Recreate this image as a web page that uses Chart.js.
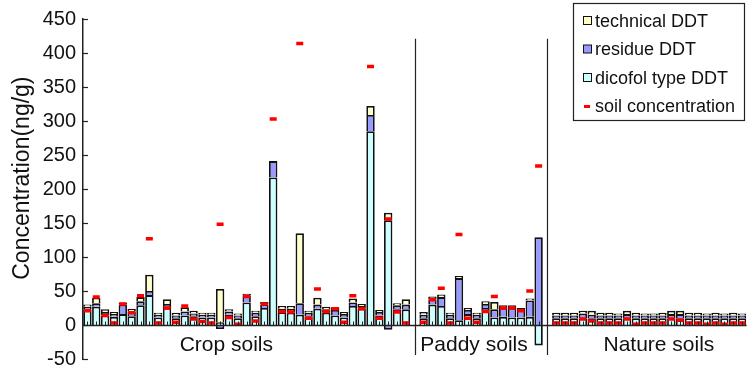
<!DOCTYPE html>
<html>
<head>
<meta charset="utf-8">
<script src="https://cdn.jsdelivr.net/npm/chart.js@4.4.0/dist/chart.umd.min.js"></script>
<style>
  html, body { margin: 0; padding: 0; background: #fff; }
  #wrap { width: 754px; height: 378px; }
</style>
</head>
<body>
<div id="wrap"><canvas id="chart" width="754" height="378"></canvas></div>
<script>
// 75 slots: 37 crop soils, gap, 14 paddy soils, gap, 22 nature soils
const dicofol = [
  23,27,14,12,16,13,29,44,11,25, 10,14,13,11,11,4,15,10,33,13, 25,217,19,18,15,13,24,18,14,11, 28,24,285,14,154,23,23,
  null,
  10,30,28,10,7,16,10,25,11,12,11,11,12,-30,
  null,
  10,10,10,10,10,10,10,10,10,10,10,10,10,10,10,10,10,10,10,10,10,10
];
const residue = [
  4,5,5,4,14,7,6,6,4,6, 4,6,4,4,4,-6,5,4,10,5, 5,24,5,6,17,5,6,5,8,5, 5,4,24,5,-7,6,7,
  null,
  5,8,13,5,62,6,5,6,12,13,14,11,24,129,
  null,
  4,4,4,7,5,4,4,4,6,4,4,4,4,6,6,4,4,4,4,4,4,4
];
const technical = [
  3,8,4,3,3,4,6,24,3,7, 4,6,4,3,3,49,3,3,3,3, 4,-2,4,4,103,3,10,4,4,3, 6,3,13,3,11,3,8,
  null,
  4,4,4,3,3,3,3,4,11,4,4,3,3,0,
  null,
  4,4,4,4,6,4,4,3,5,4,3,3,4,5,5,4,4,3,4,3,4,3
];
const soilConc = [
  21,41,14,3,31,18,43,127,3,25, 4,28,9,5,3,148,11,1,42,6, 31,303,20,19,414,10,53,20,24,4, 43,24,380,10,156,19,3,
  null,
  4,37,54,3,133,10,4,20,42,25,25,21,50,234,
  null,
  3,3,3,9,6,3,3,3,9,1,3,3,3,9,7,3,3,1,3,1,3,3
];
const slotLabels = dicofol.map((v, i) => 'S' + (i + 1));
const groupLabels = ['Crop soils', 'Paddy soils', 'Nature soils'];
const groupCenters = [15.7, 43.7, 64.6];   // in slot units
const dividerSlots = [37, 52];
const yTitle = 'Concentration(ng/g)';

const FONT = "'Liberation Sans', Arial, Helvetica, sans-serif";
Chart.defaults.font.family = FONT;
Chart.defaults.color = '#111';

const extras = {
  id: 'extras',
  afterDatasetsDraw(chart) {
    const {ctx, scales: {x, y}} = chart;
    const y0 = Math.round(y.getPixelForValue(0)) + 0.5;
    ctx.save();
    ctx.strokeStyle = '#222';
    // zero line across the plot
    ctx.lineWidth = 1.3;
    ctx.beginPath();
    ctx.moveTo(x.left, y0);
    ctx.lineTo(x.right, y0);
    ctx.stroke();
    // small inward ticks on the zero line
    ctx.lineWidth = 1;
    for (let i = 0; i < slotLabels.length; i++) {
      const px = Math.round(x.getPixelForValue(i)) + 0.5;
      ctx.beginPath();
      ctx.moveTo(px, y0);
      ctx.lineTo(px, y0 - 4);
      ctx.stroke();
    }
    // inward ticks on the y axis
    ctx.lineWidth = 1.2;
    y.ticks.forEach(t => {
      const py = Math.round(y.getPixelForValue(t.value)) + 0.5;
      ctx.beginPath();
      ctx.moveTo(x.left, py);
      ctx.lineTo(x.left + 5, py);
      ctx.stroke();
    });
    // group dividers
    dividerSlots.forEach(s => {
      const px = Math.round(x.getPixelForValue(s)) + 0.5;
      ctx.beginPath();
      ctx.moveTo(px, y.getPixelForValue(421));
      ctx.lineTo(px, y.getPixelForValue(-44));
      ctx.stroke();
    });
    // group labels
    ctx.fillStyle = '#111';
    ctx.font = '21px ' + FONT;
    ctx.textAlign = 'center';
    ctx.textBaseline = 'middle';
    groupLabels.forEach((lab, i) => {
      ctx.fillText(lab, x.getPixelForValue(groupCenters[i]), y.getPixelForValue(-29));
    });
    // y title
    ctx.save();
    ctx.translate(23, y.getPixelForValue(216));
    ctx.rotate(-Math.PI / 2);
    ctx.font = '23px ' + FONT;
    ctx.fillText(yTitle, 0, 0);
    ctx.restore();
    // legend
    const order = [2, 1, 0, 3];
    const bx = 573, by = 3, bw = 171, bh = 117;
    ctx.fillStyle = '#fff';
    ctx.fillRect(bx, by, bw, bh);
    ctx.strokeStyle = '#222';
    ctx.lineWidth = 1.2;
    ctx.strokeRect(bx + 0.5, by + 0.5, bw, bh);
    ctx.font = '18px ' + FONT;
    ctx.textAlign = 'left';
    order.forEach((di, k) => {
      const ds = chart.data.datasets[di];
      const cy = by + 18 + k * 28.5;
      if (ds.type === 'line') {
        ctx.fillStyle = '#ff0000';
        ctx.fillRect(584, cy - 1.5, 6, 3);
      } else {
        ctx.fillStyle = ds.backgroundColor;
        ctx.fillRect(583.5, cy - 4.5, 8, 8);
        ctx.strokeStyle = '#111';
        ctx.lineWidth = 1;
        ctx.strokeRect(583.5, cy - 4.5, 8, 8);
      }
      ctx.fillStyle = '#111';
      ctx.fillText(ds.label, 595, cy + 1);
    });
    ctx.restore();
  }
};

// one shared outline between stacked segments: draw only the outer edge (top for positive, bottom for negative)
const segBorder = c => (c.raw < 0)
  ? { left: 1.8, right: 1.8, top: 0, bottom: 1.8 }
  : { left: 1.8, right: 1.8, top: 1.8, bottom: 0 };

const barStyle = {
  borderColor: '#111',
  borderWidth: segBorder,
  borderSkipped: false,
  barPercentage: 0.95,
  categoryPercentage: 1
};

new Chart(document.getElementById('chart'), {
  type: 'bar',
  data: {
    labels: slotLabels,
    datasets: [
      Object.assign({label: 'dicofol type DDT', data: dicofol, backgroundColor: '#ccffff'}, barStyle),
      Object.assign({label: 'residue DDT', data: residue, backgroundColor: '#9999ff'}, barStyle),
      Object.assign({label: 'technical DDT', data: technical, backgroundColor: '#ffffcc'}, barStyle),
      {
        type: 'line',
        label: 'soil concentration',
        data: soilConc,
        stack: 'soil',
        order: -1,
        showLine: false,
        pointStyle: 'line',
        pointRadius: 3.5,
        pointBorderWidth: 3.5,
        borderColor: '#ff0000',
        backgroundColor: '#ff0000'
      }
    ]
  },
  options: {
    responsive: false,
    devicePixelRatio: 1,
    animation: false,
    layout: { padding: { top: 17, bottom: 12, left: 0, right: 0 } },
    plugins: { legend: { display: false }, tooltip: { enabled: false } },
    events: [],
    scales: {
      x: { stacked: true, display: false, offset: true },
      y: {
        stacked: true,
        min: -50,
        max: 450,
        ticks: { stepSize: 50, padding: 7, color: '#111', font: { size: 20 } },
        grid: { display: false, drawTicks: false },
        border: { display: true, color: '#222', width: 1.5 },
        afterFit: s => { s.width = 83; }
      }
    }
  },
  plugins: [extras]
});
</script>
</body>
</html>
